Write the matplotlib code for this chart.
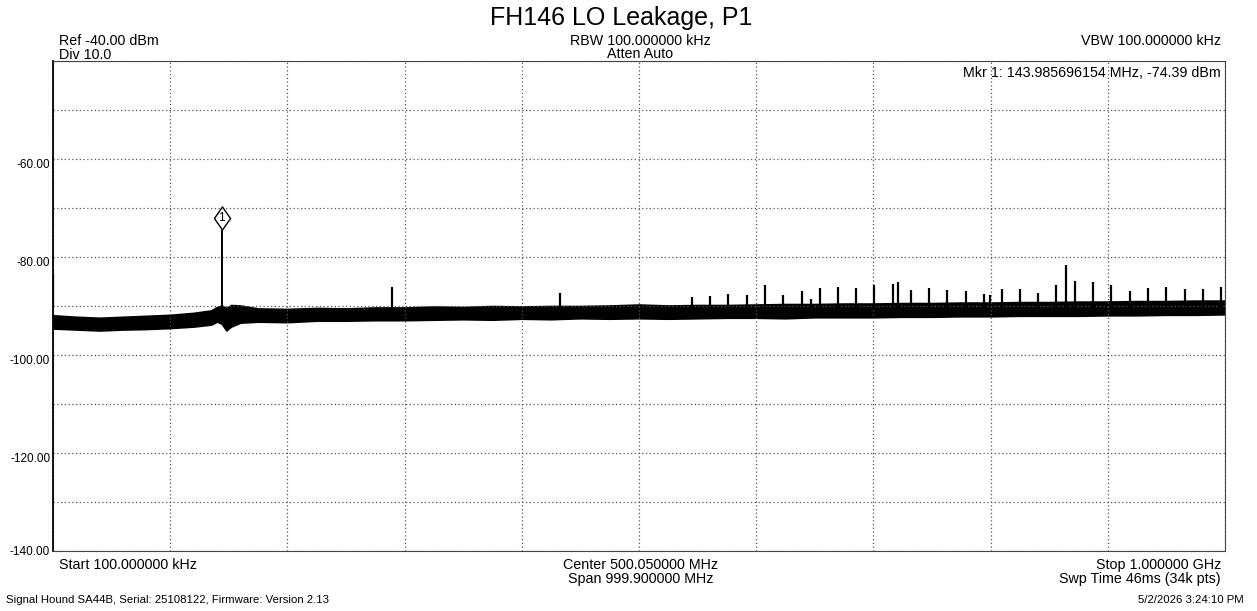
import matplotlib
matplotlib.use('Agg')
import matplotlib.pyplot as plt
from matplotlib.transforms import offset_copy

plt.rcParams['font.family'] = ['Liberation Sans', 'DejaVu Sans']

# sweep settings (MHz, dBm)
start_mhz = 0.1
stop_mhz = 1000.0
ref_level = -40.0
div_db = 10.0

# noise floor envelope
floor_mhz = [0.1, 20, 40, 60, 80, 100, 120, 135, 140, 144, 148, 152, 160, 175, 200, 225,
             250, 275, 300, 325, 350, 375, 400, 425, 450, 475, 500, 525, 550, 575, 600,
             625, 650, 675, 700, 725, 750, 775, 800, 825, 850, 875, 900, 925, 950, 975, 1000]
floor_top = [-91.9, -92.2, -92.4, -92.2, -92.0, -91.8, -91.4, -90.9, -90.2, -89.9, -90.4, -89.8,
             -89.9, -90.5, -90.6, -90.4, -90.5, -90.3, -90.3, -90.1, -90.2, -90.0, -90.1, -90.0,
             -90.0, -89.9, -89.7, -89.9, -89.8, -89.8, -89.7, -89.6, -89.6, -89.5, -89.5, -89.4,
             -89.4, -89.3, -89.3, -89.2, -89.2, -89.1, -89.1, -89.0, -89.0, -88.9, -88.9]
floor_bot = [-94.6, -94.8, -95.0, -94.8, -94.7, -94.5, -94.2, -93.8, -93.2, -93.6, -95.0, -94.2,
             -93.4, -93.2, -93.3, -93.0, -93.0, -92.9, -92.9, -92.8, -92.7, -92.8, -92.6, -92.7,
             -92.5, -92.6, -92.5, -92.6, -92.5, -92.4, -92.4, -92.5, -92.3, -92.3, -92.3, -92.2,
             -92.2, -92.1, -92.1, -92.0, -92.0, -92.0, -91.9, -91.9, -91.8, -91.8, -91.7]

# spurs above the floor
spur_mhz = [0.1, 289.0, 432.6, 545.0, 560.6, 576.2, 592.2, 607.8, 623.2, 638.8, 647.0, 654.2,
            669.5, 685.4, 700.8, 716.4, 721.0, 731.8, 747.4, 763.0, 779.0, 794.4, 799.8, 809.7,
            825.1, 840.5, 856.1, 864.6, 872.3, 887.7, 903.0, 918.7, 934.3, 949.7, 965.6, 981.2,
            996.6]
spur_dbm = [-83.5, -86.2, -87.4, -88.2, -88.0, -87.6, -87.7, -85.8, -87.7, -87.0, -88.6, -86.3,
            -86.2, -86.3, -85.8, -85.5, -85.1, -86.8, -86.3, -86.8, -87.0, -87.5, -87.7, -86.5,
            -86.6, -87.3, -85.8, -81.6, -85.0, -85.1, -85.8, -87.0, -86.3, -86.2, -86.6, -86.6,
            -86.2]

# marker 1
mkr_mhz = 143.985696154
mkr_dbm = -74.39

W, H = 1257, 611
fig = plt.figure(figsize=(W / 100, H / 100), dpi=100)
ax = fig.add_axes([53 / W, 1 - 551 / H, (1225 - 53) / W, (551 - 61) / H])

bottom = ref_level - 10 * div_db
ax.set_xlim(start_mhz, stop_mhz)
ax.set_ylim(bottom, ref_level)

# trace
ax.fill_between(floor_mhz, floor_bot, floor_top, color='black', lw=1.2, edgecolor='black')
ax.vlines(spur_mhz, -90.5, spur_dbm, color='black', lw=1.6, zorder=3)
ax.vlines([mkr_mhz], -90.5, [mkr_dbm], color='black', lw=1.4)

# diamond marker sitting on the peak
diamond = [(-0.7, 0), (0, 1), (0.7, 0), (0, -1), (-0.7, 0)]
tr = offset_copy(ax.transData, fig=fig, x=0, y=11.5, units='dots')
ax.plot([mkr_mhz], [mkr_dbm], marker=diamond, markersize=16.6, mfc='white', mec='black',
        mew=1.0, transform=tr, zorder=5)
ax.text(mkr_mhz, mkr_dbm, '1', transform=tr, ha='center', va='center', fontsize=8.5,
        zorder=6)

# grid: 10 divisions each way
xstep = (stop_mhz - start_mhz) / 10
ax.set_xticks([start_mhz + i * xstep for i in range(11)])
ax.set_xticklabels([])
yt = [bottom + i * div_db for i in range(11)]
ax.set_yticks(yt)
ax.set_yticklabels(['%.2f' % v if (int(round(v)) % 20 == 0 and v < ref_level) else '' for v in yt],
                   fontsize=8.5)
ax.tick_params(length=0, pad=2)
for lbl in ax.get_yticklabels():
    if lbl.get_text() and lbl.get_text() != '%.2f' % bottom:
        lbl.set_va('top')
ax.grid(True, color='#555555', ls=(0, (1, 2)), lw=0.9)
for s in ax.spines.values():
    s.set_color('#444444')
ax.spines['left'].set_color('black')
ax.spines['left'].set_linewidth(1.3)


def ftxt(x, y, s, **kw):
    fig.text(x / W, 1 - y / H, s, va='baseline', **kw)


ftxt(621, 25, 'FH146 LO Leakage, P1', ha='center', fontsize=18)
ftxt(59, 45, 'Ref -40.00 dBm', ha='left', fontsize=10.3)
ftxt(59, 59, 'Div 10.0', ha='left', fontsize=10.3)
ftxt(640, 45, 'RBW 100.000000 kHz', ha='center', fontsize=10.3)
ftxt(640, 58, 'Atten Auto', ha='center', fontsize=10.3)
ftxt(1221, 45, 'VBW 100.000000 kHz', ha='right', fontsize=10.3)
ftxt(1221, 77, 'Mkr 1: 143.985696154 MHz, -74.39 dBm', ha='right', fontsize=10.3)
ftxt(59, 569, 'Start 100.000000 kHz', ha='left', fontsize=10.3)
ftxt(641, 569, 'Center 500.050000 MHz', ha='center', fontsize=10.3)
ftxt(641, 583, 'Span 999.900000 MHz', ha='center', fontsize=10.3)
ftxt(1221, 569, 'Stop 1.000000 GHz', ha='right', fontsize=10.3)
ftxt(1221, 583, 'Swp Time 46ms (34k pts)', ha='right', fontsize=10.3)
ftxt(6, 603, 'Signal Hound SA44B, Serial: 25108122, Firmware: Version 2.13', ha='left',
     fontsize=8.2)
ftxt(1244, 603, '5/2/2026 3:24:10 PM', ha='right', fontsize=8.2)

fig.savefig('out.png', dpi=100, facecolor='white')
